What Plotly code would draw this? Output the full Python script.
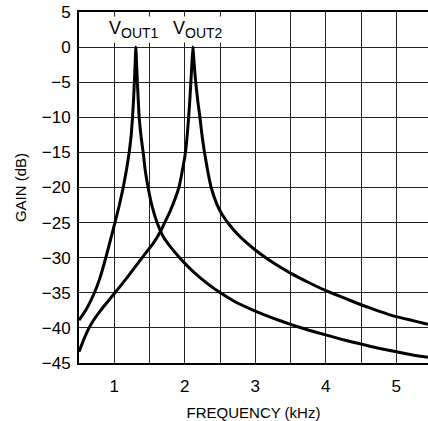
import plotly.graph_objects as go

# frequency (kHz) / gain (dB)
vout1_freq = [0.5, 0.6, 0.714, 0.8, 0.869, 0.94, 1.01, 1.07, 1.127, 1.175,
              1.212, 1.24, 1.259, 1.275, 1.285, 1.296, 1.306,
              1.317, 1.328, 1.34, 1.353, 1.38, 1.41, 1.44, 1.48, 1.54,
              1.607, 1.7, 1.8, 1.927, 2.05, 2.2, 2.35, 2.49, 2.7, 3.0,
              3.25, 3.5, 3.75, 4.0, 4.25, 4.5, 4.75, 5.0, 5.25, 5.45]
vout1_gain = [-38.9, -37.4, -35.1, -32.8, -30.4, -27.7, -25.0, -22.6, -20.0, -17.4,
              -15.0, -12.6, -10.0, -7.3, -5.0, -2.5, 0.0,
              -2.5, -5.0, -7.5, -10.0, -12.7, -15.0, -17.6, -20.0, -22.8,
              -25.0, -27.1, -28.5, -30.0, -31.3, -32.7, -33.9, -34.9, -36.2, -37.6,
              -38.6, -39.5, -40.3, -41.0, -41.7, -42.3, -42.9, -43.4, -43.9, -44.2]

vout2_freq = [0.5, 0.57, 0.643, 0.72, 0.8, 0.9, 1.01, 1.2, 1.41, 1.55,
              1.659, 1.716, 1.8, 1.917, 1.96, 2.01, 2.035, 2.055, 2.072, 2.087,
              2.1, 2.115, 2.135, 2.155, 2.185, 2.215, 2.245, 2.28, 2.325, 2.375,
              2.45, 2.53, 2.633, 2.75, 2.88, 3.0, 3.15, 3.3, 3.5, 3.75,
              4.0, 4.25, 4.5, 4.75, 5.0, 5.25, 5.45]
vout2_gain = [-43.4, -41.6, -40.0, -38.7, -37.6, -36.35, -35.0, -32.6, -29.8, -28.0,
              -26.2, -25.0, -23.2, -20.0, -17.9, -15.0, -12.5, -10.0, -7.5, -5.0,
              -2.6, 0.0, -2.6, -5.0, -7.7, -10.0, -12.6, -15.0, -17.6, -20.0,
              -22.25, -23.85, -25.3, -26.65, -27.9, -28.9, -30.0, -31.0, -32.2, -33.5,
              -34.7, -35.7, -36.7, -37.6, -38.4, -39.0, -39.5]

x_tickvals = [1, 2, 3, 4, 5]
x_half_grid = [1.5, 2.5, 3.5, 4.5]
y_tickvals = [5, 0, -5, -10, -15, -20, -25, -30, -35, -40, -45]

FONT = "Liberation Sans, Arial, sans-serif"

fig = go.Figure()
for fx, gy in [(vout1_freq, vout1_gain), (vout2_freq, vout2_gain)]:
    fig.add_trace(go.Scatter(x=fx, y=gy, mode="lines",
                             line=dict(color="black", width=3, shape="spline", smoothing=0.4),
                             showlegend=False, hoverinfo="skip"))

# peak labels, white box hides the grid behind them
for lx, lbl in [(1.275, "OUT1"), (2.19, "OUT2")]:
    fig.add_annotation(x=lx, y=2.5, showarrow=False, bgcolor="white", borderpad=1,
                       text=f"V<sub><span style='font-size:14px'>{lbl}</span></sub>",
                       font=dict(family=FONT, size=18, color="black"))

fig.update_layout(
    width=428, height=421,
    margin=dict(l=79, r=0, t=12, b=58),
    plot_bgcolor="white", paper_bgcolor="white",
    font=dict(family=FONT, size=17, color="black"),
)
fig.update_xaxes(
    range=[0.5, 5.45], tickvals=x_tickvals,
    showgrid=True, gridcolor="#222", gridwidth=1, zeroline=False,
    minor=dict(tickvals=x_half_grid, showgrid=True, gridcolor="#222", gridwidth=1, ticks=""),
    showline=True, linecolor="black", linewidth=2, mirror=True,
    ticks="", ticklabelstandoff=7,
    title=dict(text="FREQUENCY (kHz)", font=dict(size=15), standoff=12),
)
fig.update_yaxes(
    range=[-45, 5], tickvals=y_tickvals,
    showgrid=True, gridcolor="#222", gridwidth=1, zeroline=False,
    showline=True, linecolor="black", linewidth=2,
    ticks="", ticklabelstandoff=3,
    title=dict(text="GAIN (dB)", font=dict(size=15), standoff=12),
)

# drop the default body margin so the figure sits at the window corner
fig.write_html("out.html", config={"displayModeBar": False},
               post_script="document.body.style.margin='0';")
